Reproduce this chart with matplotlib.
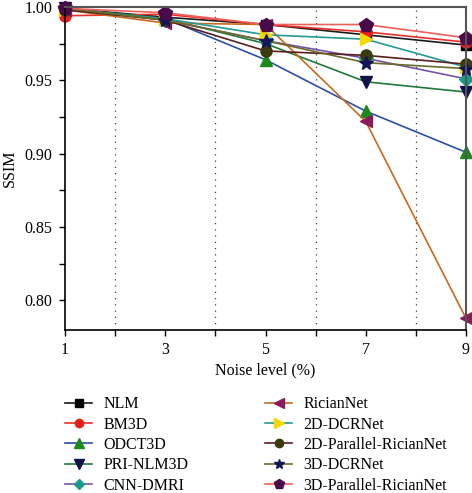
import matplotlib.pyplot as plt

plt.rcParams['font.family'] = ['Liberation Serif', 'DejaVu Serif']
plt.rcParams['font.size'] = 11.5

noise = [1, 3, 5, 7, 9]

nlm = [0.999, 0.993, 0.988, 0.981, 0.974]
bm3d = [0.994, 0.995, 0.988, 0.983, 0.976]
odct3d = [0.999, 0.992, 0.964, 0.929, 0.901]
pri_nlm3d = [0.999, 0.992, 0.975, 0.949, 0.942]
cnn_dmri = [0.999, 0.991, 0.977, 0.965, 0.951]
riciannet = [0.998, 0.989, 0.988, 0.922, 0.788]
dcr2d = [0.998, 0.992, 0.981, 0.978, 0.959]
par2d = [0.998, 0.991, 0.970, 0.967, 0.961]
dcr3d = [0.999, 0.991, 0.977, 0.962, 0.958]
par3d = [0.999, 0.996, 0.988, 0.988, 0.979]

names = ['NLM', 'BM3D', 'ODCT3D', 'PRI-NLM3D', 'CNN-DMRI',
         'RicianNet', '2D-DCRNet', '2D-Parallel-RicianNet', '3D-DCRNet',
         '3D-Parallel-RicianNet']
series = [nlm, bm3d, odct3d, pri_nlm3d, cnn_dmri,
          riciannet, dcr2d, par2d, dcr3d, par3d]
line_cols = ['#1a1a1a', '#e8302a', '#2b4fa8', '#1f7a3a', '#7a4fa8',
             '#c86a1e', '#239a96', '#5a1e1e', '#6b6b2a', '#f0605a']
mark_cols = ['#000000', '#e8201a', '#1a8a1a', '#12124a', '#1a9a8a',
             '#8a1a5a', '#f5d800', '#3a3a10', '#14145a', '#4a0a4a']
markers = ['s', 'o', '^', 'v', 'D', '<', '>', 'o', '*', 'p']
msizes = [7, 8, 9, 9, 7, 9, 9, 8, 10, 10]

xticks = [1, 3, 5, 7, 9]
xminor = [2, 4, 6, 8]
yticks = [0.80, 0.85, 0.90, 0.95, 1.00]
yminor = [0.825, 0.875, 0.925, 0.975]

fig = plt.figure(figsize=(4.72, 4.93), dpi=100)
ax = fig.add_axes([0.138, 0.331, 0.849, 0.655])

for name, ys, lc, mc, m, ms in zip(names, series, line_cols, mark_cols, markers, msizes):
    ax.plot(noise, ys, color=lc, lw=1.2, marker=m, ms=ms,
            markerfacecolor=mc, markeredgecolor=mc, label=name, clip_on=False)

ax.set_xlim(1, 9)
ax.set_ylim(0.780, 1.0)
ax.set_xticks(xticks)
ax.set_xticks(xminor, minor=True)
ax.set_yticks(yticks)
ax.set_yticklabels(['%.2f' % v for v in yticks])
ax.set_yticks(yminor, minor=True)
ax.grid(True, which='minor', axis='x', linestyle=(0, (1, 4)), color='#444444', lw=0.9)
ax.tick_params(which='both', direction='out', length=4, width=1, labelsize=11.5, pad=5)
for s in ['top', 'right']:
    ax.spines[s].set_color('#555555')
    ax.spines[s].set_linewidth(1.5)
for s in ['left', 'bottom']:
    ax.spines[s].set_linewidth(1.2)

ax.set_xlabel('Noise level (%)', fontsize=11.5, labelpad=3)
ax.set_ylabel('SSIM', fontsize=11.5, labelpad=5)

fig.legend(loc='upper left', bbox_to_anchor=(0.138, 0.196), ncol=2, frameon=False,
           fontsize=11.5, handlelength=1.7, columnspacing=4.8, labelspacing=0.27,
           handletextpad=0.7, markerscale=0.75, borderpad=0, borderaxespad=0)

fig.savefig('out.png', dpi=100)
